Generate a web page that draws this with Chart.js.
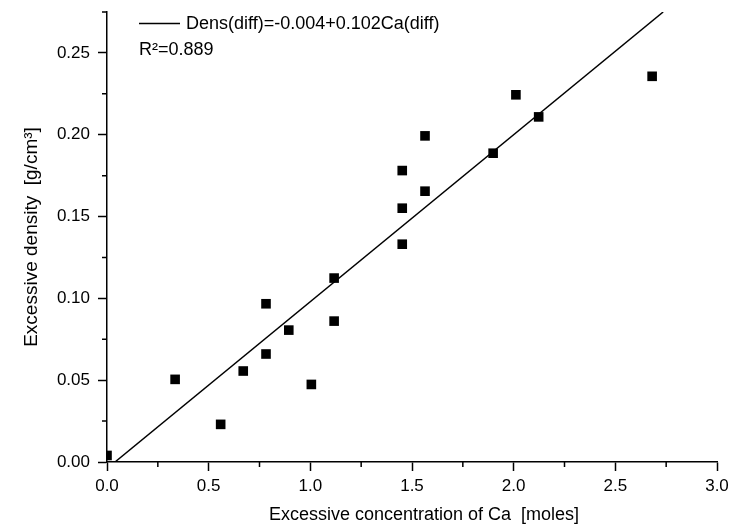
<!DOCTYPE html>
<html>
<head>
<meta charset="utf-8">
<title>Excessive density vs Ca</title>
<script src="https://cdn.jsdelivr.net/npm/chart.js@4"></script>
<style>
  html, body { margin: 0; padding: 0; background: #fff; }
  #wrap { width: 729px; height: 530px; }
</style>
</head>
<body>
<div id="wrap"><canvas id="chart"></canvas></div>
<script>
// Medições: concentração em excesso de Ca (mol) x densidade em excesso (g/cm3)
const caDiff = [0.000, 0.335, 0.559, 0.670, 0.782, 0.782, 0.894, 1.005, 1.117, 1.117,
                1.452, 1.452, 1.452, 1.564, 1.564, 1.899, 2.011, 2.123, 2.681];
const densDiff = [0.0040, 0.0505, 0.0230, 0.0556, 0.0660, 0.0967, 0.0806, 0.0474, 0.0861, 0.1124,
                  0.1331, 0.1551, 0.1781, 0.1655, 0.1993, 0.1887, 0.2244, 0.2109, 0.2357];

// Ajuste linear
const fitIntercept = -0.004;
const fitSlope = 0.102;
const fitR2 = 0.889;

// Eixos
const xMin = 0, xMax = 3.0;
const yMin = 0, yMax = 0.275;
const xTicks = [0.0, 0.5, 1.0, 1.5, 2.0, 2.5, 3.0];
const yTicks = [0.00, 0.05, 0.10, 0.15, 0.20, 0.25];
const xMinorTicks = [0.25, 0.75, 1.25, 1.75, 2.25, 2.75];
const yMinorTicks = [0.025, 0.075, 0.125, 0.175, 0.225, 0.275];

const FONTE = '"Liberation Sans", Arial, Helvetica, sans-serif';

// reta de ajuste entre y = 0 e o topo do eixo
const fitX0 = (yMin - fitIntercept) / fitSlope;
const fitX1 = (yMax - fitIntercept) / fitSlope;
const fitLine = [fitX0, fitX1].map(x => ({ x: x, y: fitIntercept + fitSlope * x }));

const pontos = caDiff.map((x, i) => ({ x: x, y: densDiff[i] }));

// ticks menores (menores que os principais)
const minorTicks = {
    id: 'minorTicks',
    afterDraw(chart) {
        const { ctx, chartArea, scales } = chart;
        ctx.save();
        ctx.strokeStyle = '#000';
        ctx.lineWidth = 1.5;
        ctx.beginPath();
        xMinorTicks.forEach(v => {
            const px = scales.x.getPixelForValue(v);
            ctx.moveTo(px, chartArea.bottom);
            ctx.lineTo(px, chartArea.bottom + 5);
        });
        yMinorTicks.forEach(v => {
            const py = scales.y.getPixelForValue(v);
            ctx.moveTo(chartArea.left, py);
            ctx.lineTo(chartArea.left - 5, py);
        });
        ctx.stroke();
        ctx.restore();
    }
};

// titulo do eixo x (um pouco deslocado para a direita do centro)
const tituloX = {
    id: 'tituloX',
    afterDraw(chart) {
        const { ctx, chartArea } = chart;
        const t = chart.options.scales.x.title;
        ctx.save();
        ctx.fillStyle = '#000';
        ctx.font = '18px ' + FONTE;
        ctx.textAlign = 'center';
        ctx.textBaseline = 'middle';
        ctx.fillText(t.text, (chartArea.left + chartArea.right) / 2 + 12, chart.height - 15);
        ctx.restore();
    }
};

// legenda da reta + R2 dentro da área do gráfico
const fitLabel = {
    id: 'fitLabel',
    afterDraw(chart) {
        const { ctx, chartArea } = chart;
        const ds = chart.data.datasets[1];
        const x0 = chartArea.left + 32;
        const y0 = chartArea.top + 11.5;
        ctx.save();
        ctx.strokeStyle = ds.borderColor;
        ctx.lineWidth = ds.borderWidth;
        ctx.beginPath();
        ctx.moveTo(x0, y0);
        ctx.lineTo(x0 + 41, y0);
        ctx.stroke();
        ctx.fillStyle = '#000';
        ctx.font = '18px ' + FONTE;
        ctx.textBaseline = 'middle';
        ctx.textAlign = 'left';
        ctx.fillText(ds.label, x0 + 47, y0 + 1);
        ctx.fillText('R\u00B2=' + fitR2.toFixed(3), x0, y0 + 27);
        ctx.restore();
    }
};

const ctx = document.getElementById('chart').getContext('2d');
const grafico = new Chart(ctx, {
    type: 'scatter',
    data: {
        datasets: [
            {
                label: 'Dados',
                data: pontos,
                pointStyle: 'rect',
                pointRadius: 6.8,
                pointHoverRadius: 6.8,
                backgroundColor: '#000',
                borderWidth: 0
            },
            {
                type: 'line',
                label: 'Dens(diff)=' + fitIntercept.toFixed(3) + '+' + fitSlope.toFixed(3) + 'Ca(diff)',
                data: fitLine,
                showLine: true,
                borderColor: '#000',
                borderWidth: 1.5,
                pointRadius: 0,
                fill: false
            }
        ]
    },
    options: {
        responsive: true,
        maintainAspectRatio: false,
        animation: false,
        layout: { padding: { top: 12, right: 12, left: 0, bottom: 0 } },
        plugins: {
            legend: { display: false },
            tooltip: { enabled: false }
        },
        scales: {
            x: {
                type: 'linear',
                min: xMin,
                max: xMax,
                afterBuildTicks: s => { s.ticks = xTicks.map(v => ({ value: v })); },
                afterFit: s => { s.height = 68; s.paddingLeft = 0; s.paddingRight = 0; },
                ticks: {
                    callback: v => Number(v).toFixed(1),
                    color: '#000',
                    font: { family: FONTE, size: 17 },
                    padding: 5,
                    maxRotation: 0,
                    autoSkip: false
                },
                grid: { drawOnChartArea: false, tickLength: 9, tickColor: '#000', tickWidth: 1.5 },
                border: { color: '#000', width: 1.5 },
                title: {
                    display: false,
                    text: 'Excessive concentration of Ca  [moles]'
                }
            },
            y: {
                type: 'linear',
                min: yMin,
                max: yMax,
                afterBuildTicks: s => { s.ticks = yTicks.map(v => ({ value: v })); },
                afterFit: s => { s.width = 107; s.paddingTop = 0; s.paddingBottom = 0; },
                ticks: {
                    callback: v => Number(v).toFixed(2),
                    color: '#000',
                    font: { family: FONTE, size: 17 },
                    padding: 8
                },
                grid: { drawOnChartArea: false, tickLength: 9, tickColor: '#000', tickWidth: 1.5 },
                border: { color: '#000', width: 1.5 },
                title: {
                    display: true,
                    text: 'Excessive density  [g/cm\u00B3]',
                    color: '#000',
                    font: { family: FONTE, size: 19 },
                    padding: { top: 20, bottom: 0 }
                }
            }
        }
    },
    plugins: [minorTicks, tituloX, fitLabel]
});
</script>
</body>
</html>
